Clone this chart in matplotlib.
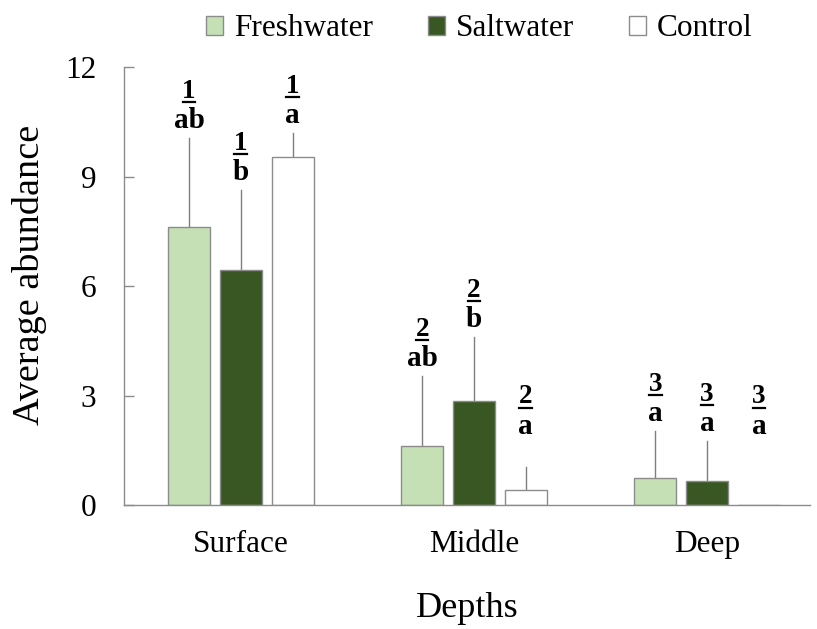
import matplotlib
matplotlib.use("Agg")
import matplotlib.pyplot as plt
import numpy as np
from matplotlib.transforms import offset_copy
from matplotlib.lines import Line2D

plt.rcParams['font.family'] = ['Liberation Serif', 'DejaVu Serif']

depths = ["Surface", "Middle", "Deep"]
series = ["Freshwater", "Saltwater", "Control"]
means = {
    "Freshwater": [7.62, 1.62, 0.74],
    "Saltwater": [6.44, 2.85, 0.66],
    "Control": [9.53, 0.41, 0.0],
}
sds = {
    "Freshwater": [2.43, 1.91, 1.29],
    "Saltwater": [2.19, 1.75, 1.09],
    "Control": [0.66, 0.63, 0.0],
}
group_nums = ["1", "2", "3"]
letters = {
    "Freshwater": ["ab", "ab", "a"],
    "Saltwater": ["b", "b", "a"],
    "Control": ["a", "a", "a"],
}
yticks = [0, 3, 6, 9, 12]

colors = {"Freshwater": "#C5E0B4", "Saltwater": "#385723", "Control": "#FFFFFF"}
edge = "#8C8C8C"
label_floor = 1.68

fig = plt.figure(figsize=(8.17, 6.29), dpi=100)
ax = fig.add_axes([0.152, 0.197, 0.839, 0.6965])

x = np.arange(len(depths))
width = 0.18
step = 0.222
for i, s in enumerate(series):
    xs = x + (i - 1) * step
    ax.bar(xs, means[s], width=width, color=colors[s], edgecolor=edge,
           linewidth=1.0, label=s, zorder=2)
    for j in range(len(depths)):
        m, sd = means[s][j], sds[s][j]
        if sd > 0:
            ax.plot([xs[j], xs[j]], [m, m + sd], color="#7F7F7F", lw=1.0, zorder=1)
        anchor = max(m + sd, label_floor)
        t_let = offset_copy(ax.transData, fig=fig, x=0, y=7, units='points')
        ax.text(xs[j], anchor, letters[s][j], transform=t_let, ha='center',
                va='baseline', fontsize=21, fontweight='bold')
        t_num = offset_copy(ax.transData, fig=fig, x=0, y=29, units='points')
        ax.text(xs[j], anchor, group_nums[j], transform=t_num, ha='center',
                va='baseline', fontsize=19.5, fontweight='bold')
        t_line = offset_copy(ax.transData, fig=fig, x=0, y=26, units='points')
        ax.add_line(Line2D([xs[j] - 0.027, xs[j] + 0.027], [anchor, anchor],
                           transform=t_line, color='black', lw=1.6))

ax.set_xlim(-0.5, 2.44)
ax.set_ylim(0, 12)
ax.set_yticks(yticks)
ax.set_xticks(x)
ax.set_xticklabels(depths)
for sp in ["top", "right"]:
    ax.spines[sp].set_visible(False)
for sp in ["left", "bottom"]:
    ax.spines[sp].set_color(edge)
    ax.spines[sp].set_linewidth(1.0)
ax.tick_params(axis='y', direction='in', length=7, width=1.0, color=edge,
               labelsize=22.5, pad=20)
ax.tick_params(axis='x', length=0, labelsize=22.5, pad=18)
ax.set_ylabel("Average abundance", fontsize=27.5)
ax.yaxis.set_label_coords(-0.113, 0.525)
ax.set_xlabel("Depths", fontsize=26, labelpad=24)

leg = fig.legend(loc='upper center', bbox_to_anchor=(0.587, 1.022), ncol=3,
                 frameon=False, fontsize=22.5, handlelength=0.55, handleheight=0.55,
                 handletextpad=0.35, columnspacing=1.75)
for h in leg.legend_handles:
    h.set_edgecolor(edge)

fig.savefig("out.png", dpi=100)
